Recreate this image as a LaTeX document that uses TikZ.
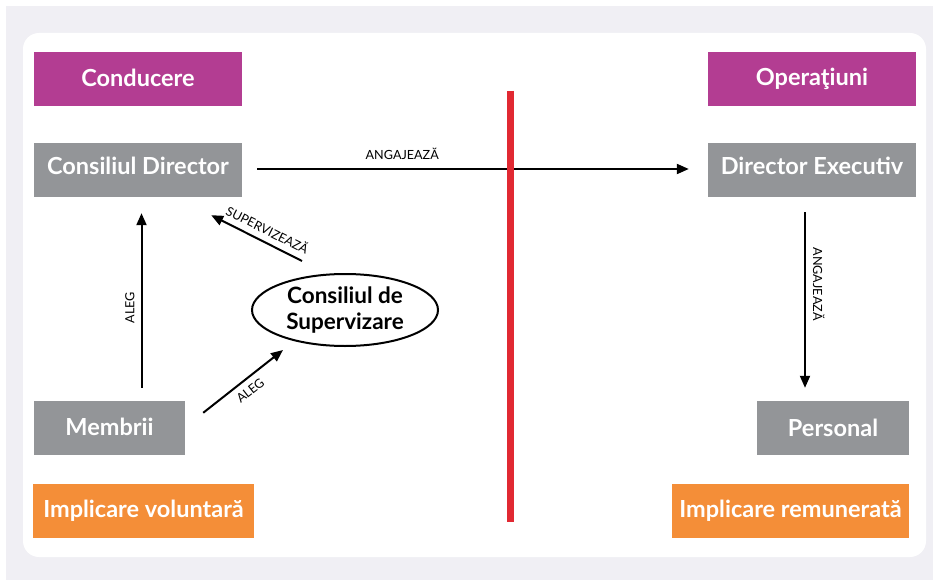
\documentclass[tikz,border=0pt]{standalone}
\usepackage{fontspec}
\setmainfont{Lato}
\usetikzlibrary{arrows.meta,shapes.geometric,calc}
\definecolor{bgout}{RGB}{240,239,244}
\definecolor{magbox}{RGB}{179,61,146}
\definecolor{graybox}{RGB}{147,149,152}
\definecolor{orgbox}{RGB}{244,142,56}
\definecolor{redline}{RGB}{225,41,50}
\begin{document}
\begin{tikzpicture}[x=1pt,y=-1pt,
  boxbase/.style={rectangle, inner sep=0pt, minimum height=54pt, text=white,
    font=\fontsize{23.5}{27}\selectfont\bfseries},
  magstyle/.style={boxbase, fill=magbox},
  graystyle/.style={boxbase, fill=graybox},
  orgstyle/.style={boxbase, fill=orgbox},
  liftup/.style={text depth=8pt},
  arr/.style={line width=2pt, -{Triangle[length=12pt,width=10pt]}},
  lbl/.style={font=\fontsize{12.6}{14}\selectfont, text=black, inner sep=0pt}
]
\useasboundingbox (0,0) rectangle (933,580);
\fill[bgout] (6,6) rectangle (933,580);
\fill[white, rounded corners=16pt] (23,33) rectangle (926,557);

\node[magstyle, minimum width=208pt, text depth=3pt] (cond) at (138,79) {Conducere};
\node[graystyle, minimum width=208pt, liftup] (cd) at (138,170) {Consiliul Director};
\node[magstyle, minimum width=208pt] (oper) at (812,79) {Operaţiuni};
\node[graystyle, minimum width=208pt, liftup] (dexec) at (812,170) {Director Executiv};
\node[graystyle, minimum width=151pt, text depth=2pt] (memb) at (109.5,428) {Membrii};
\node[graystyle, minimum width=152pt] (pers) at (833,428) {Personal};
\node[orgstyle, minimum width=221pt] (vol) at (143.5,511) {Implicare voluntară};
\node[orgstyle, minimum width=237pt] (rem) at (790.5,511) {Implicare remunerată};
\node[ellipse, draw=black, line width=2pt, minimum width=186pt, minimum height=72pt,
  inner sep=0pt, align=center, font=\fontsize{22.5}{26}\selectfont\bfseries] (csup) at (345,310)
  {Consiliul de\\Supervizare};

\coordinate (rtop) at (510.5,91);
\coordinate (rbot) at (510.5,522);

\draw[arr] ($(cd.east)+(15,-1)$) -- node[lbl, pos=0.336, above=8pt] {ANGAJEAZĂ} ($(dexec.west)+(-19,-1)$);
\draw[redline, line width=7pt] (rtop) -- (rbot);

\draw[arr] ($(dexec.south)+(-7,15)$) -- node[lbl, sloped, pos=0.41, above=7pt] {ANGAJEAZĂ} ($(pers.north)+(-28,-13)$);
\draw[arr] ($(memb.north)+(32,-13)$) -- node[lbl, sloped, pos=0.46, above=6pt] {ALEG} ($(cd.south)+(3.5,16)$);
\draw[arr] ($(csup.center)+(-43,-49)$) -- node[lbl, sloped, pos=0.44, above=6pt] {SUPERVIZEAZĂ} ($(cd.south east)+(-31,18)$);
\draw[arr] ($(memb.north east)+(18,12)$) -- node[lbl, sloped, pos=0.5, below=6pt] {ALEG} ($(csup.center)+(-62,40)$);
\end{tikzpicture}
\end{document}
